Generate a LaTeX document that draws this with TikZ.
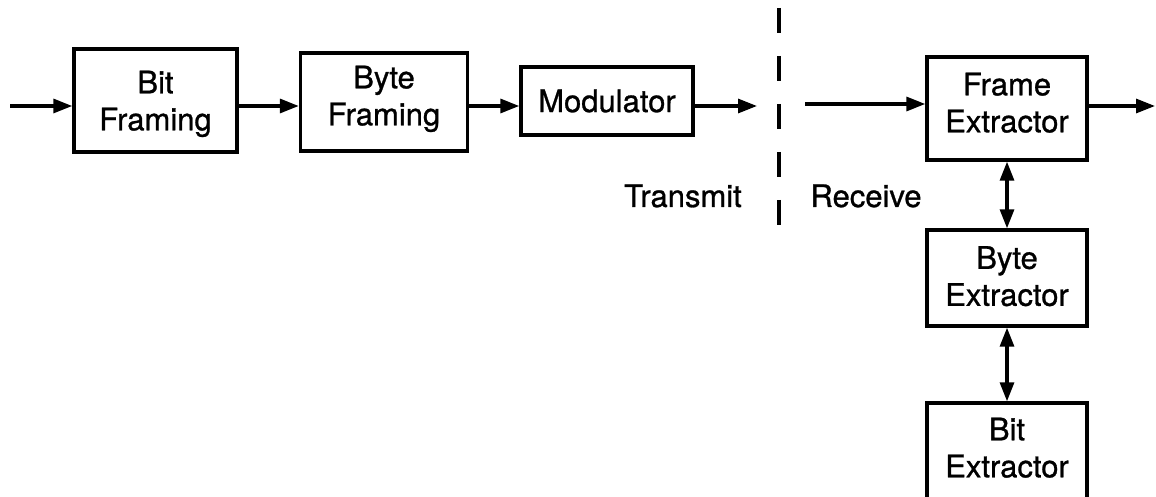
\documentclass[tikz,border=0pt]{standalone}
\usepackage{fontspec}
\setmainfont{TeX Gyre Heros}
\newfontfamily\diagfont{TeX Gyre Heros}[FakeBold=0.9]
\usetikzlibrary{arrows.meta}
\begin{document}
\begin{tikzpicture}[x=1pt,y=-1pt,
  blockbox/.style={draw, line width=3.4pt, align=center, inner sep=0pt,
    font=\diagfont\fontsize{31}{37}\selectfont},
  flow/.style={line width=3.2pt, -{Triangle[length=19pt,width=14pt]}},
  twoway/.style={line width=3.2pt,
    {Triangle[length=19pt,width=14pt]}-{Triangle[length=19pt,width=14pt]}},
  sidelabel/.style={font=\diagfont\fontsize{31}{37}\selectfont, anchor=base, inner sep=0pt},
  cutline/.style={line width=3.2pt, dash pattern=on 25pt off 23pt}]
\useasboundingbox (0,0) rectangle (1156,497);

% transmit chain
\node[blockbox, minimum width=163pt, minimum height=103pt, text depth=0pt] (bitf) at (155.5,100.5) {Bit\\Framing};
\node[blockbox, minimum width=167pt, minimum height=98pt, text depth=13pt] (bytef) at (384,102) {Byte\\Framing};
\node[blockbox, minimum width=172pt, minimum height=68pt] (mod) at (607,101) {Modulator};

% receive chain
\node[blockbox, minimum width=160pt, minimum height=103pt, text depth=12pt] (frame) at (1007,108.5) {Frame\\Extractor};
\node[blockbox, minimum width=160pt, minimum height=96pt, text depth=4pt] (bytex) at (1007,278) {Byte\\Extractor};
\node[blockbox, minimum width=160pt, minimum height=103pt, text depth=14pt] (bitx) at (1007,454.5) {Bit\\Extractor};

% free ends of the signal path
\coordinate (src) at (10,106);
\coordinate (txend) at (757,106);
\coordinate (rxstart) at (805,104);
\coordinate (sink) at (1155,106);
\coordinate (cuttop) at (779,8);
\coordinate (cutbot) at (779,226);

\draw[flow] (src) -- (src -| bitf.west);
\draw[flow] (bitf.east |- src) -- (bytef.west |- src);
\draw[flow] (bytef.east |- src) -- (mod.west |- src);
\draw[flow] (mod.east |- src) -- (txend);
\draw[flow] (rxstart) -- (rxstart -| frame.west);
\draw[flow] (frame.east |- sink) -- (sink);
\draw[twoway] (frame.south) -- (bytex.north);
\draw[twoway] (bytex.south) -- (bitx.north);

% channel boundary
\draw[cutline] (cuttop) -- (cutbot);
\node[sidelabel] (tx) at (683,207) {Transmit};
\node[sidelabel] (rx) at (866,207) {Receive};
\end{tikzpicture}
\end{document}
